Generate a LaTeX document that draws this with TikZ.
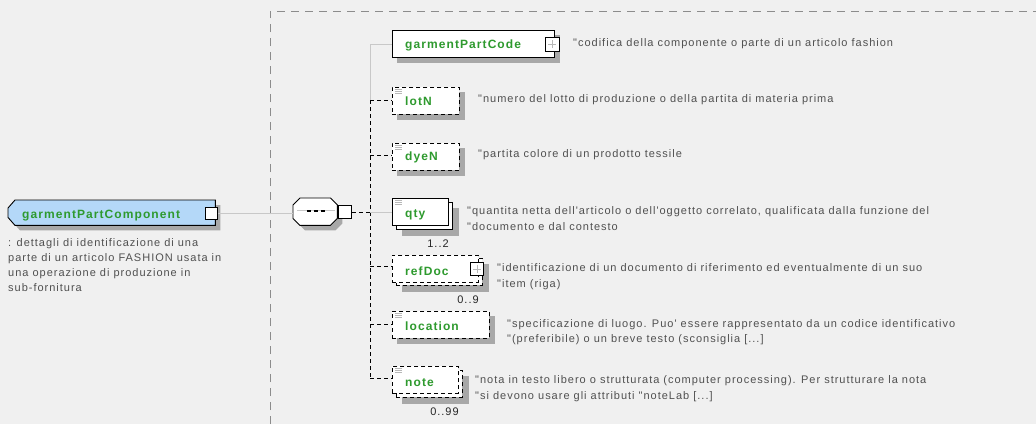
\documentclass[tikz,border=0pt]{standalone}
\usepackage{fontspec}
\setmainfont{Liberation Sans}
\newfontfamily\descfont[LetterSpace=9]{Liberation Sans}
\newfontfamily\labfont[LetterSpace=9]{Liberation Sans Bold}
\usetikzlibrary{calc}
\definecolor{bg}{HTML}{F0F0F0}
\definecolor{shd}{HTML}{A8A8A8}
\definecolor{lbl}{HTML}{2E9A2E}
\definecolor{dsc}{HTML}{505050}
\definecolor{rootfill}{HTML}{B4D8F8}
\definecolor{cont}{HTML}{8C8C8C}
\definecolor{ln}{HTML}{C8C8C8}
\definecolor{icn}{HTML}{B8B8B8}
\pgfdeclarelayer{bgl}
\pgfdeclarelayer{shl}
\pgfsetlayers{bgl,shl,main}
\newcommand\shadowof[1]{\fill[shd] ($(#1.north west)+(5,5)$) rectangle ($(#1.south east)+(5,5)$);}
\newcommand\shadowofb[1]{\fill[shd] ($(#1.north west)+(6,6)$) rectangle ($(#1.south east)+(6,6)$);}
\newcommand\iconof[1]{\draw[icn, line width=0.7pt] (#1.north west) ++(3,2.5) -- ++(7,0) ++(-7,2) -- ++(7,0) ++(-7,2) -- ++(7,0);}
\newcommand\plusof[1]{\draw[icn, line width=0.8pt] (#1.center) ++(-4,0) -- ++(8,0) (#1.center) ++(0,-4) -- ++(0,8);}
\begin{document}
\begin{tikzpicture}[x=1pt,y=-1pt,
  elem/.style={draw=black, line width=0.9pt, fill=white, inner sep=0pt, anchor=north west},
  frame/.style={draw=none, inner sep=0pt, anchor=north west},
  dbox/.style={dash pattern=on 4pt off 3pt},
  lab/.style={text=lbl, font=\fontsize{12}{14}\labfont, anchor=base west, inner sep=0pt},
  desc/.style={text=dsc, font=\fontsize{11}{14}\descfont, anchor=base west, inner sep=0pt},
  mult/.style={text=black!85, font=\fontsize{11}{14}\descfont, anchor=base east, inner sep=0pt},
  gline/.style={draw=ln, line width=0.9pt},
  dline/.style={draw=black, line width=0.9pt, dash pattern=on 4pt off 3pt},
  sq/.style={draw=black, line width=0.9pt, fill=white, inner sep=0pt, minimum size=13pt, anchor=north west},
]
\useasboundingbox (0,0) rectangle (1036,424);
\begin{pgfonlayer}{bgl}
\fill[bg] (0,0) rectangle (1036,424);
\end{pgfonlayer}
% container
\draw[cont, line width=0.9pt, dash pattern=on 8pt off 6pt] (270,424) -- (270,11) -- (1036,11);

% root element
\node[frame, minimum width=207pt, minimum height=25pt] (root) at (8,200) {};
\begin{pgfonlayer}{shl}
\fill[shd] ($(root.north west)+(12,5)$) -- ($(root.north east)+(5,5)$) -- ($(root.south east)+(5,5)$) -- ($(root.south west)+(12,5)$) -- ($(root.south west)+(5,-3)$) -- ($(root.north west)+(5,13)$) -- cycle;
\end{pgfonlayer}
\draw[fill=rootfill, line width=0.9pt] ($(root.north west)+(7,0)$) -- (root.north east) -- (root.south east) -- ($(root.south west)+(7,0)$) -- ($(root.south west)+(0,-8)$) -- ($(root.north west)+(0,8)$) -- cycle;
\node[lab] (roott) at (22,218) {garmentPartComponent};
\node[sq, minimum size=12pt] (rootsq) at (205,207) {};
\node[desc] (rootd1) at (8,246) {: dettagli di identificazione di una};
\node[desc] (rootd2) at (8,261) {parte di un articolo FASHION usata in};
\node[desc] (rootd3) at (8,276) {una operazione di produzione in};
\node[desc] (rootd4) at (8,291) {sub-fornitura};

% sequence compositor
\node[frame, minimum width=44pt, minimum height=27pt] (seq) at (293,198) {};
\begin{pgfonlayer}{shl}
\fill[shd] ($(seq.north west)+(12,5)$) -- ($(seq.north east)+(-2,5)$) -- ($(seq.north east)+(5,12)$) -- ($(seq.south east)+(5,-2)$) -- ($(seq.south east)+(-2,5)$) -- ($(seq.south west)+(12,5)$) -- ($(seq.south west)+(5,-2)$) -- ($(seq.north west)+(5,12)$) -- cycle;
\end{pgfonlayer}
\draw[fill=white, line width=0.9pt] ($(seq.north west)+(7,0)$) -- ($(seq.north east)+(-7,0)$) -- ($(seq.north east)+(0,7)$) -- ($(seq.south east)+(0,-7)$) -- ($(seq.south east)+(-7,0)$) -- ($(seq.south west)+(7,0)$) -- ($(seq.south west)+(0,-7)$) -- ($(seq.north west)+(0,7)$) -- cycle;
\draw[ln, line width=0.8pt] ($(seq.west)+(4,-1)$) -- ($(seq.east)+(-2,-1)$);
\foreach \i in {0,7,14} \draw[black, line width=1.8pt] (307+\i,211) -- ++(4,0);
\node[sq, minimum size=13pt] (seqsq) at (338,205) {};

\draw[gline] (rootsq.east |- 0,213) coordinate (r1) -- (seq.west |- r1);

% spine
\coordinate (sp0) at (370,212);
\coordinate (spt) at (370,44);
\coordinate (spm) at (370,100);
\coordinate (spb) at (370,378);
\draw[dline] (seqsq.east |- sp0) -- (sp0);
\draw[gline] (spt) -- (spm);
\draw[dline] (spm) -- (spb);

% garmentPartCode
\node[elem, minimum width=162pt, minimum height=27pt] (gpc) at (392,30) {};
\begin{pgfonlayer}{shl}\shadowof{gpc}\end{pgfonlayer}
\node[lab] (gpct) at (405,48.5) {garmentPartCode};
\node[sq, minimum size=14pt] (gpcsq) at (545,37) {};
\plusof{gpcsq}
\node[desc] (gpcd) at (573,46) {"codifica della componente o parte di un articolo fashion};
\draw[gline] (spt) -- (spt -| gpc.west);

% lotN
\node[elem, dbox, minimum width=67pt, minimum height=27pt] (lotN) at (392,87) {};
\begin{pgfonlayer}{shl}\shadowof{lotN}\end{pgfonlayer}
\iconof{lotN}
\node[lab] (lotNt) at (405,105.5) {lotN};
\node[desc] (lotNd) at (478,102) {"numero del lotto di produzione o della partita di materia prima};
\draw[dline] (spm) -- (spm -| lotN.west);

% dyeN
\node[elem, dbox, minimum width=67pt, minimum height=27pt] (dyeN) at (392,143) {};
\begin{pgfonlayer}{shl}\shadowof{dyeN}\end{pgfonlayer}
\iconof{dyeN}
\node[lab] (dyeNt) at (405,160) {dyeN};
\node[desc] (dyeNd) at (478,157) {"partita colore di un prodotto tessile};
\coordinate (jdye) at (370,155);
\draw[dline] (jdye) -- (jdye -| dyeN.west);

% qty
\node[elem, minimum width=56pt, minimum height=27pt] (qtyb) at (396,202) {};
\begin{pgfonlayer}{shl}\shadowofb{qtyb}\end{pgfonlayer}
\node[elem, minimum width=56pt, minimum height=27pt] (qty) at (392,198) {};
\iconof{qty}
\node[lab] (qtyt) at (405,217) {qty};
\node[mult] (qtym) at (qty.east |- 0,247) {1..2};
\node[desc] (qtyd1) at (467,214) {"quantita netta dell'articolo o dell'oggetto correlato, qualificata dalla funzione del};
\node[desc] (qtyd2) at (467,230) {"documento e dal contesto};
\coordinate (jqty) at (370,212);
\draw[gline] (jqty) -- (jqty -| qty.west);

% refDoc
\node[elem, dbox, minimum width=86pt, minimum height=27pt] (refDocb) at (396,258) {};
\begin{pgfonlayer}{shl}\shadowofb{refDocb}\end{pgfonlayer}
\node[elem, dbox, minimum width=86pt, minimum height=27pt] (refDoc) at (392,255) {};
\node[lab] (refDoct) at (405,275.5) {refDoc};
\node[sq, minimum size=13pt] (refDocsq) at (470,262) {};
\plusof{refDocsq}
\node[mult] (refDocm) at (refDoc.east |- 0,303) {0..9};
\node[desc] (refDocd1) at (497,271) {"identificazione di un documento di riferimento ed eventualmente di un suo};
\node[desc] (refDocd2) at (497,287) {"item (riga)};
\coordinate (jref) at (370,266);
\draw[dline] (jref) -- (jref -| refDoc.west);

% location
\node[elem, dbox, minimum width=97pt, minimum height=27pt] (loc) at (392,311) {};
\begin{pgfonlayer}{shl}\shadowof{loc}\end{pgfonlayer}
\iconof{loc}
\node[lab] (loct) at (405,330.5) {location};
\node[desc] (locd1) at (507,327) {"specificazione di luogo. Puo' essere rappresentato da un codice identificativo};
\node[desc] (locd2) at (507,342.5) {"(preferibile) o un breve testo (sconsiglia [...]};
\coordinate (jloc) at (370,324);
\draw[dline] (jloc) -- (jloc -| loc.west);

% note
\node[elem, dbox, minimum width=66pt, minimum height=27pt] (noteb) at (396,370) {};
\begin{pgfonlayer}{shl}\shadowofb{noteb}\end{pgfonlayer}
\node[elem, dbox, minimum width=66pt, minimum height=27pt] (note) at (392,366) {};
\iconof{note}
\node[lab] (notet) at (405,386.5) {note};
\node[mult] (notem) at (note.east |- 0,415) {0..99};
\node[desc] (noted1) at (475,383) {"nota in testo libero o strutturata (computer processing). Per strutturare la nota};
\node[desc] (noted2) at (475,399) {"si devono usare gli attributi "noteLab [...]};
\draw[dline] (spb) -- (spb -| note.west);
\end{tikzpicture}
\end{document}
